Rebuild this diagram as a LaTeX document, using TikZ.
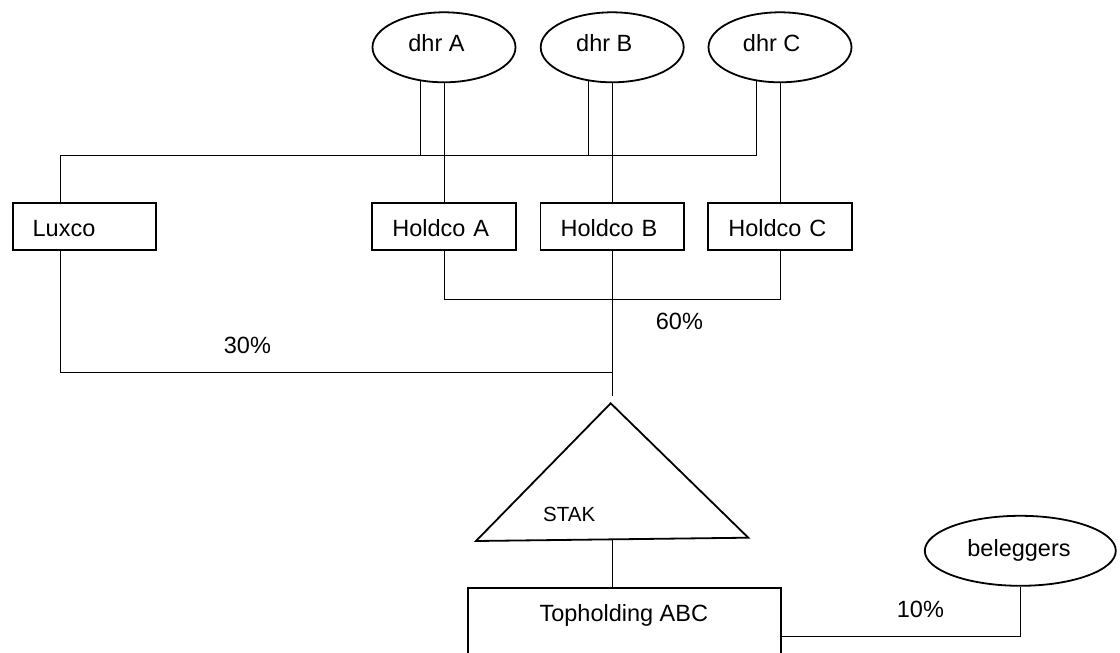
\documentclass[tikz,border=0pt]{standalone}
\usepackage{fontspec}
\setmainfont{Liberation Sans}
\usetikzlibrary{shapes.geometric,backgrounds}
\newcommand\chartfont{\fontsize{23.5}{28}\selectfont}
\newcommand\stakfont{\fontsize{20.5}{24}\selectfont}
\begin{document}
\begin{tikzpicture}[x=1pt,y=-1pt,line width=1.8pt,
  holder/.style={draw,ellipse,fill=white,minimum width=143pt,minimum height=70pt,inner sep=0pt},
  company/.style={draw,rectangle,fill=white,minimum width=143.3pt,minimum height=46.7pt,
    inner xsep=20pt,inner ysep=0pt,text width=103.3pt,align=left,
    text height=20pt,text depth=0pt,font=\chartfont},
  lbl/.style={inner sep=0pt,font=\chartfont,anchor=base},
  pct/.style={inner sep=0pt,font=\chartfont,anchor=base west}]
\useasboundingbox (0,0) rectangle (1120,653);

% shareholders
\node[holder] (dhrA) at (444,47.3) {};
\node[holder] (dhrB) at (612.2,47.3) {};
\node[holder] (dhrC) at (780,47.3) {};
\node[lbl] (dhrAt) at (436.5,51.7) {dhr A};
\node[lbl] (dhrBt) at (604.3,51.7) {dhr B};
\node[lbl] (dhrCt) at (771.7,51.7) {dhr C};

% intermediate holding companies
\node[company] (luxco) at (84.3,226.7) {Luxco};
\node[company] (hA) at (444,226.7) {Holdco A};
\node[company] (hB) at (612.2,226.7) {Holdco B};
\node[company] (hC) at (780,226.7) {Holdco C};

% levels of the horizontal bars
\coordinate (bus) at (0,155);
\coordinate (join60) at (0,298.7);
\coordinate (join30) at (0,371.7);
\coordinate (stakin) at (612.2,396);

% STAK triangle
\coordinate (apex) at (610.7,403.3);
\coordinate (baseL) at (476,541);
\coordinate (baseR) at (748.3,537.7);
\coordinate (stakout) at (612.3,539.3);
\draw[line join=miter] (apex) -- (baseR) -- (baseL) -- cycle;
\node[inner sep=0pt,font=\stakfont,anchor=base] (stak) at (569.2,521.7) {STAK};

% top holding and investors
\node[draw,fill=white,minimum width=312.7pt,minimum height=90pt,inner sep=0pt,anchor=north] (top) at (624.3,587.3) {};
\node[lbl] (topt) at (623.8,621.7) {Topholding ABC};
\node[holder,minimum width=191pt] (bel) at (1020.3,550.8) {};
\node[lbl] (belt) at (1019,556) {beleggers};

% percentages
\node[pct] (p60) at (655,329) {60\%};
\node[pct] (p30) at (223,353) {30\%};
\node[pct] (p10) at (896,617.7) {10\%};

\begin{pgfonlayer}{background}
  % shareholder links to Luxco via the common bar
  \draw ([xshift=-24pt]luxco.north) -- ([xshift=-24pt]luxco.north |- bus)
        -- ([xshift=-24pt]dhrC.center |- bus) -- ([xshift=-24pt]dhrC.center);
  \draw ([xshift=-24pt]dhrA.center) -- ([xshift=-24pt]dhrA.center |- bus);
  \draw ([xshift=-24pt]dhrB.center) -- ([xshift=-24pt]dhrB.center |- bus);
  % shareholder links to their own holdco
  \draw (dhrA) -- (hA);
  \draw (dhrB) -- (hB);
  \draw (dhrC) -- (hC);
  % holdcos (60%) and Luxco (30%) to STAK
  \draw (hA.south) -- (hA.south |- join60) -| (hC.south);
  \draw (hB.south) -- (stakin);
  \draw ([xshift=-24pt]luxco.south) |- (hB.south |- join30);
  % STAK to top holding, investors (10%) to top holding
  \draw (stakout) -- (stakout |- top.north);
  \draw (bel.south) |- ([yshift=-48.4pt]top.north east);
\end{pgfonlayer}
\end{tikzpicture}
\end{document}
